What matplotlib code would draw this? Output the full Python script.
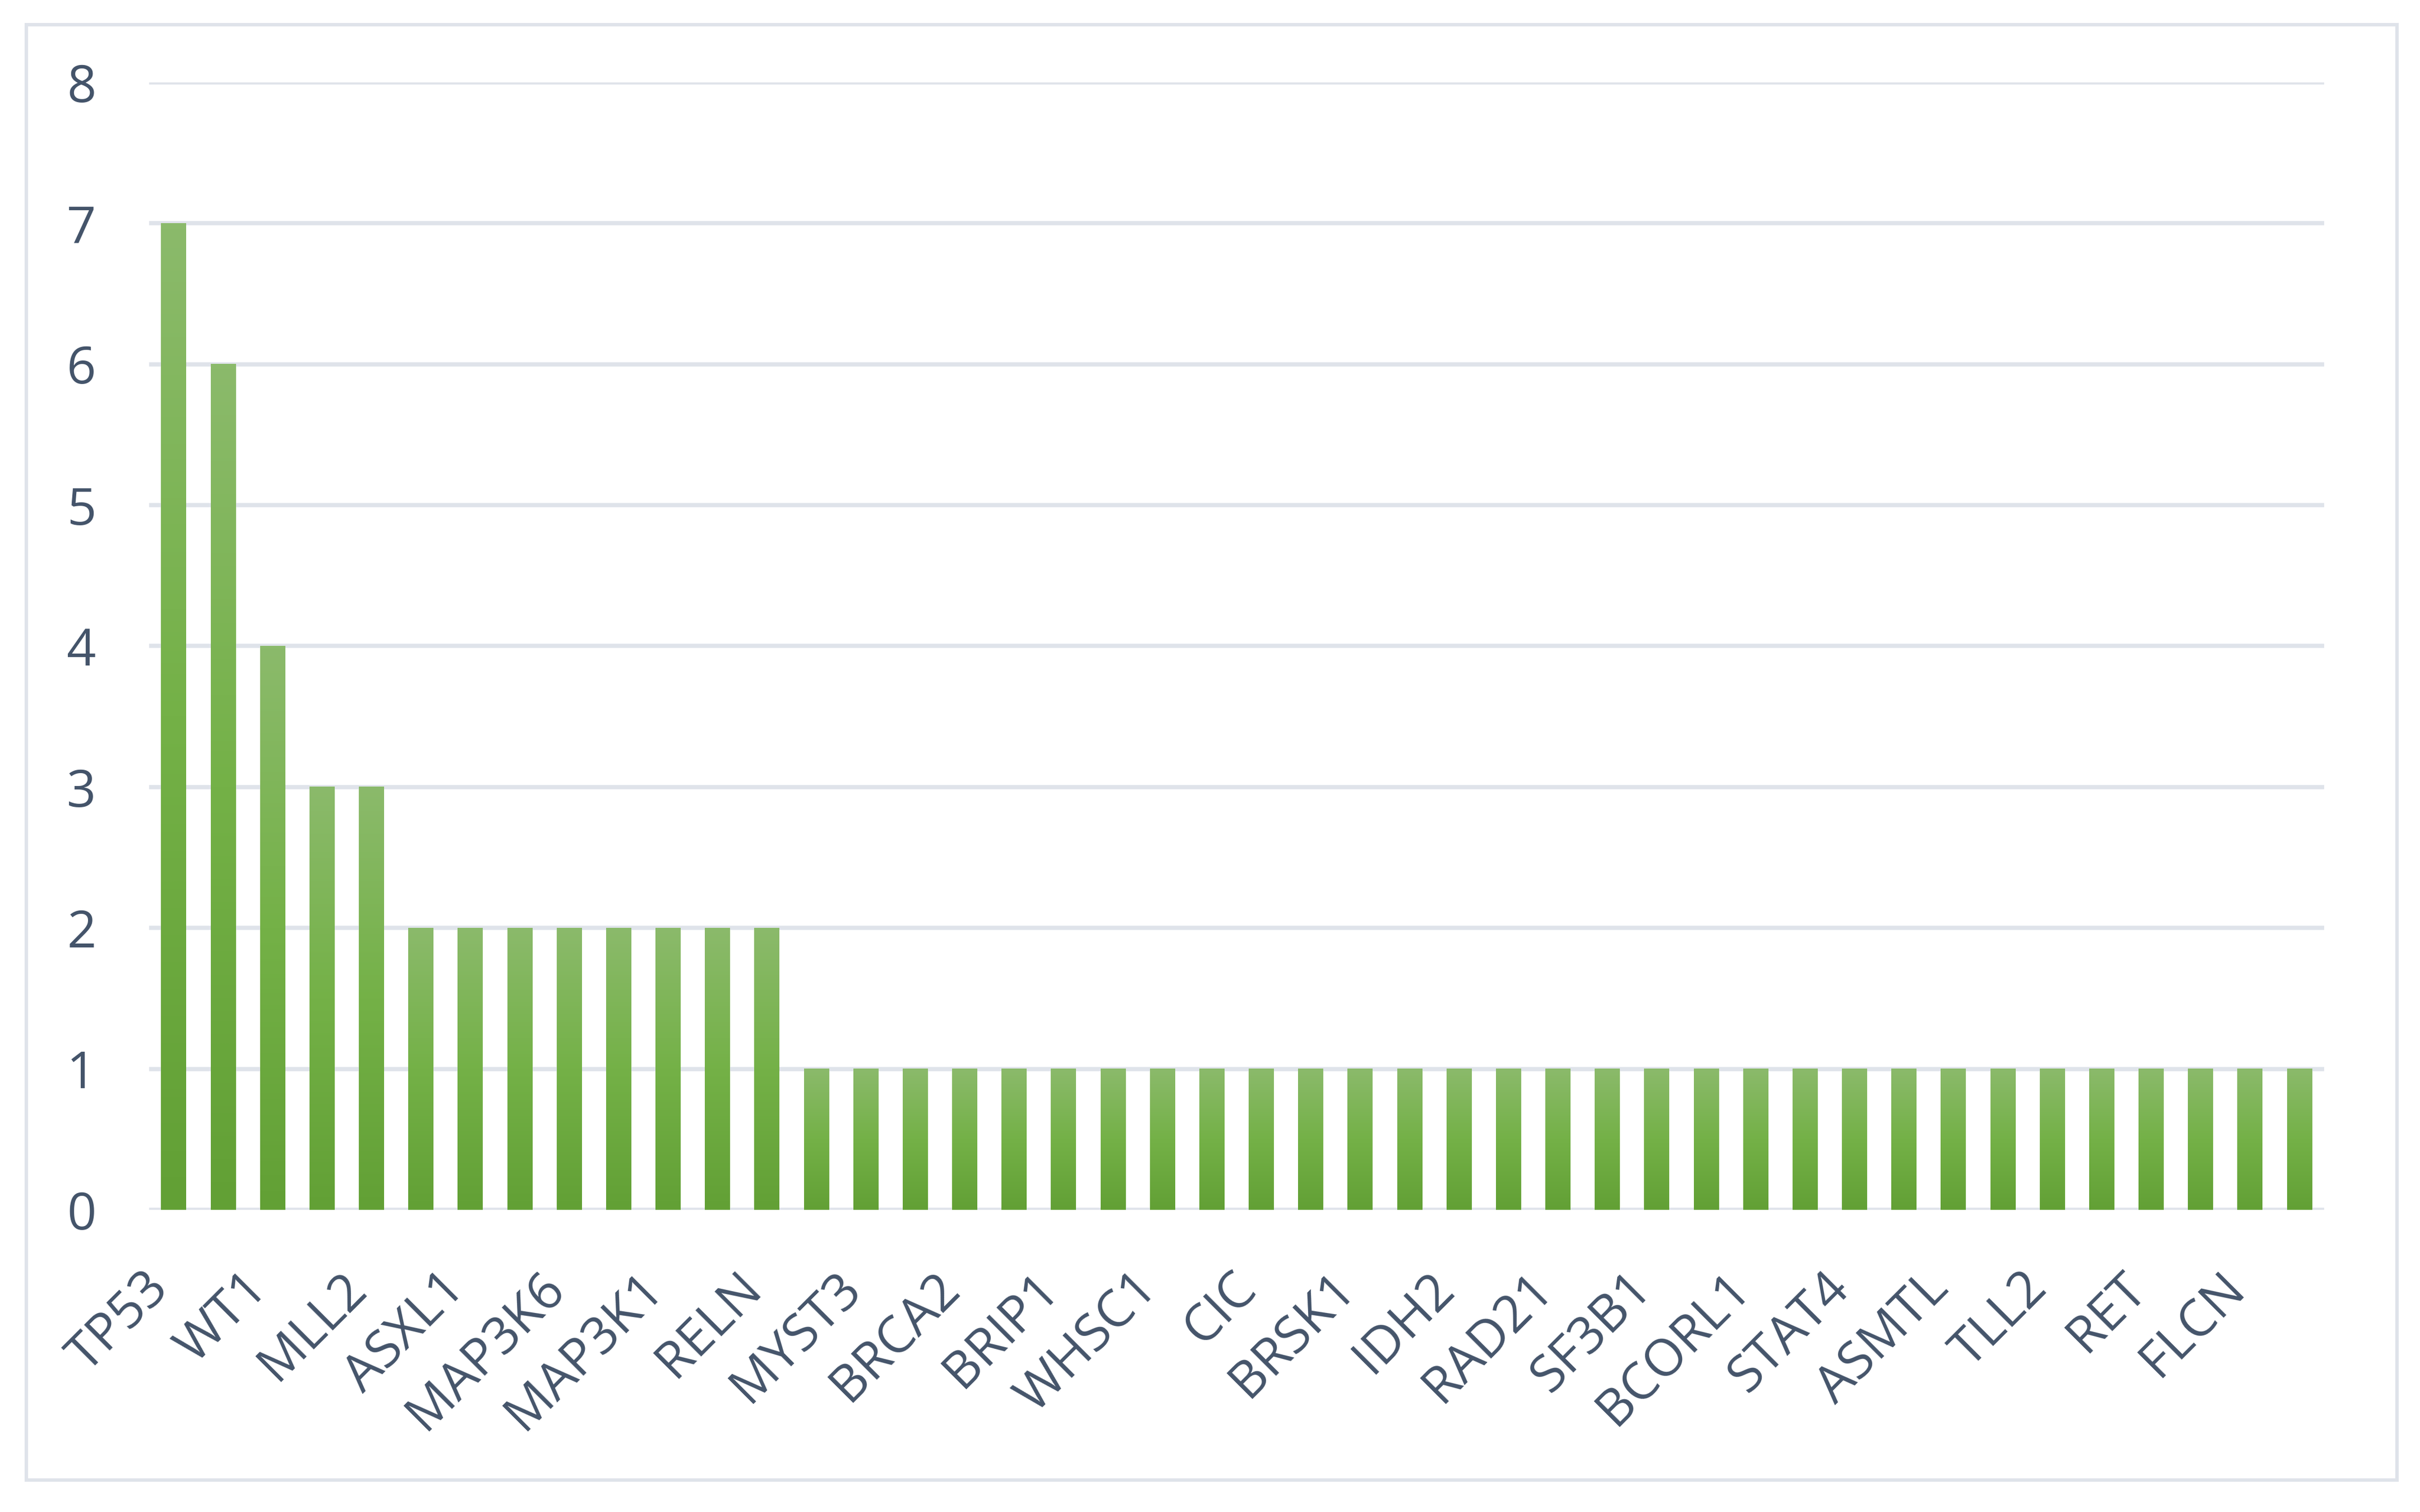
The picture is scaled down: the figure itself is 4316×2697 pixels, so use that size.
import matplotlib
matplotlib.use("Agg")
import matplotlib.pyplot as plt
import numpy as np
from matplotlib.colors import LinearSegmentedColormap
from matplotlib.patches import Rectangle
import matplotlib.transforms as mtransforms

# visible gene labels (every other bar carries a label in the original)
genes = ["TP53", "", "WT1", "", "MLL2", "", "ASXL1", "", "MAP3K6", "",
         "MAP3K1", "", "RELN", "", "MYST3", "", "BRCA2", "", "BRIP1", "",
         "WHSC1", "", "CIC", "", "BRSK1", "", "IDH2", "", "RAD21", "",
         "SF3B1", "", "BCORL1", "", "STAT4", "", "ASMTL", "", "TLL2", "",
         "RET", "", "FLCN", ""]
counts = [7, 6, 4, 3, 3, 2, 2, 2, 2, 2, 2, 2, 2] + [1] * 31
yticks = [0, 1, 2, 3, 4, 5, 6, 7, 8]

text_col = "#44546A"
grid_col = "#DFE3EA"
green = LinearSegmentedColormap.from_list("g", ["#62A035", "#74B147", "#8BBA6B"])

plt.rcParams["font.family"] = ["Open Sans", "DejaVu Sans"]

fig = plt.figure(figsize=(21.58, 13.485), dpi=200)
fig.patches.append(Rectangle((0.0109, 0.0211), 0.9796, 0.9626, transform=fig.transFigure,
                             fill=False, edgecolor=grid_col, linewidth=2.2))
ax = fig.add_axes([0.0616, 0.1999, 0.8988, 0.7456])

x = np.arange(len(counts))
bars = ax.bar(x, counts, width=0.51, color="none", zorder=2)

grad = np.linspace(0, 1, 256).reshape(-1, 1)
for b in bars:
    x0 = b.get_x()
    ax.imshow(grad, extent=[x0, x0 + b.get_width(), 0, b.get_height()], origin="lower",
              aspect="auto", cmap=green, zorder=2, interpolation="bilinear")

ax.set_xlim(-0.5, len(counts) - 0.5)
ax.set_ylim(0, 8)
ax.set_yticks(yticks)
ax.yaxis.grid(True, color=grid_col, linewidth=2.7)
ax.set_axisbelow(True)
for s in ax.spines.values():
    s.set_visible(False)

ax.tick_params(axis="both", length=0, labelsize=33, colors=text_col)
ax.tick_params(axis="y", pad=34)
ax.set_xticks(x)
ax.set_xticklabels(genes, rotation=45, ha="right", va="top", rotation_mode="anchor")
ax.tick_params(axis="x", pad=34)
offset = mtransforms.ScaledTranslation(-20 / 72, 0, fig.dpi_scale_trans)
for lbl in ax.get_xticklabels():
    lbl.set_transform(lbl.get_transform() + offset)

fig.savefig("out.png", dpi=200, facecolor="white")
